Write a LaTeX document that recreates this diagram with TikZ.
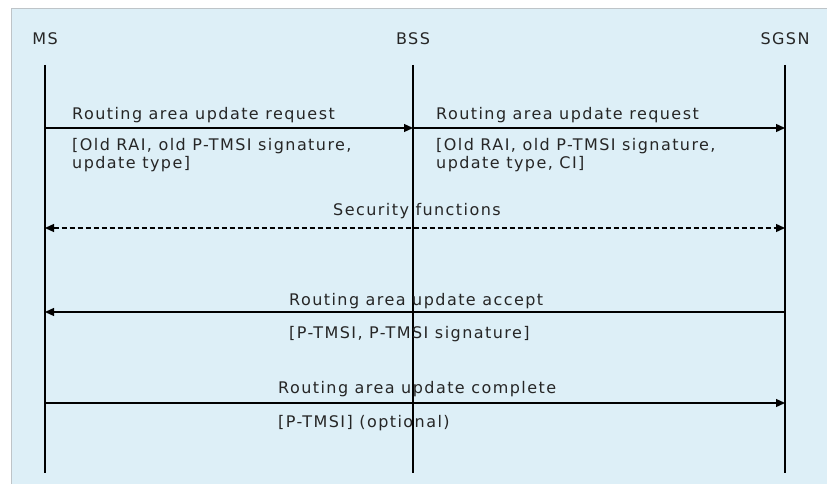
\documentclass[tikz,border=0pt]{standalone}
\usepackage{fontspec}
\setmainfont{DejaVu Sans}[LetterSpace=9]
\usetikzlibrary{arrows.meta}
\definecolor{bgpanel}{RGB}{221,239,247}
\definecolor{panelborder}{RGB}{190,196,200}
\tikzset{
  lbl/.style={font=\fontsize{16}{15}\selectfont, inner sep=0pt, anchor=base west, text=black!85},
  head/.style={font=\fontsize{16}{15}\selectfont, inner sep=0pt, anchor=base, text=black!85},
  life/.style={line width=1.3pt},
  msg/.style={line width=1.3pt, -{Triangle[length=9pt,width=8pt]}},
  dmsg/.style={line width=1.3pt, dashed, dash pattern=on 5pt off 3pt, {Triangle[length=9pt,width=8pt]}-{Triangle[length=9pt,width=8pt]}}
}
\begin{document}
\begin{tikzpicture}[x=1pt,y=-1pt]
\useasboundingbox (0,0) rectangle (827,484);
\fill[white] (0,0) rectangle (827,484);
\fill[bgpanel] (11,8) rectangle (827,484);
\draw[panelborder, line width=0.8pt] (11,484) -- (11,8) -- (827,8);
% heads
\node[head] (ms) at (45,45) {MS};
\node[head] (bss) at (413,45) {BSS};
\node[head] (sgsn) at (785,45) {SGSN};
% lifelines
\coordinate (msT) at (45,65); \coordinate (msB) at (45,473);
\coordinate (bssT) at (413,65); \coordinate (bssB) at (413,473);
\coordinate (sgT) at (785,65); \coordinate (sgB) at (785,473);
\draw[life] (msT) -- (msB);
\draw[life] (bssT) -- (bssB);
\draw[life] (sgT) -- (sgB);
% message points
\coordinate (m1a) at (45,128); \coordinate (m1b) at (413,128);
\coordinate (m2a) at (413,128); \coordinate (m2b) at (785,128);
\coordinate (m3a) at (45,228); \coordinate (m3b) at (785,228);
\coordinate (m4a) at (785,312); \coordinate (m4b) at (45,312);
\coordinate (m5a) at (45,403); \coordinate (m5b) at (785,403);
\draw[msg] (m1a) -- (m1b);
\draw[msg] (m2a) -- (m2b);
\draw[dmsg] (m3a) -- (m3b);
\draw[msg] (m4a) -- (m4b);
\draw[msg] (m5a) -- (m5b);
% labels
\node[lbl] (t1) at (72,120) {Routing area update request};
\node[lbl] (t1b) at (72,150) {[Old RAI, old P-TMSI signature,};
\node[lbl] (t1c) at (72,168) {update type]};
\node[lbl] (t2) at (436,120) {Routing area update request};
\node[lbl] (t2b) at (436,150) {[Old RAI, old P-TMSI signature,};
\node[lbl] (t2c) at (436,168) {update type, CI]};
\node[lbl] (t3) at (333,215) {Security functions};
\node[lbl] (t4) at (289,305) {Routing area update accept};
\node[lbl] (t4b) at (289,338) {[P-TMSI, P-TMSI signature]};
\node[lbl] (t5) at (278,393) {Routing area update complete};
\node[lbl] (t5b) at (278,427) {[P-TMSI] (optional)};
\end{tikzpicture}
\end{document}
